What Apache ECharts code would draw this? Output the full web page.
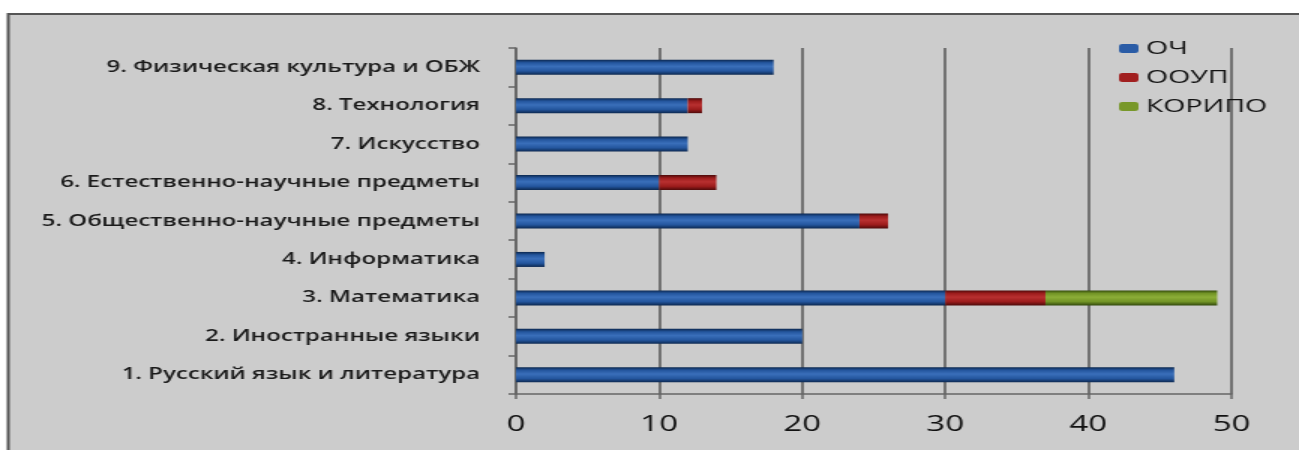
<!DOCTYPE html>
<html><head><meta charset="utf-8">
<script src="https://cdn.jsdelivr.net/npm/echarts@6/dist/echarts.min.js"></script>
<style>html,body{margin:0;padding:0;background:#fff;overflow:hidden}
#c{width:866px;height:450px;transform:scaleX(1.5);transform-origin:0 0}</style>
</head><body><div id="c"></div>
<script>
var categories = ['1. Русский язык и литература','2. Иностранные языки','3. Математика','4. Информатика','5. Общественно-научные предметы','6. Естественно-научные предметы','7. Искусство','8. Технология','9. Физическая культура и ОБЖ'];
var seriesNames = ['ОЧ','ООУП','КОРИПО'];
var valuesOCH = [46, 20, 30, 2, 24, 10, 12, 12, 18];
var valuesOOUP = [0, 0, 7, 0, 2, 4, 0, 1, 0];
var valuesKORIPO = [0, 0, 12, 0, 0, 0, 0, 0, 0];
var xTicks = [0, 10, 20, 30, 40, 50];

function grad(dark, mid, light){
  return new echarts.graphic.LinearGradient(0,0,0,1,[
    {offset:0, color:dark},{offset:0.2, color:mid},{offset:0.45, color:light},{offset:0.75, color:mid},{offset:1, color:dark}]);
}
var colors = [
  grad('#0c2850','#24569e','#3a6fba'),
  grad('#4e0a0a','#9c1c1c','#b83030'),
  grad('#334a0c','#729426','#8cae38')
];
var legendColors = ['#2a5ca6','#a11f1f','#78982a'];
var dataSets = [valuesOCH, valuesOOUP, valuesKORIPO];

var chart = echarts.init(document.getElementById('c'), null, {renderer:'canvas'});
var series = seriesNames.map(function(n,i){
  return {
    name:n, type:'bar', stack:'total', barWidth:15,
    data: dataSets[i].map(function(v){return v===0?null:v;}),
    itemStyle:{color:colors[i]}
  };
});
chart.setOption({
  backgroundColor:'#fff',
  animation:false,
  color: legendColors,
  graphic:[{type:'rect', z:-10, shape:{x:5.5,y:14,width:900,height:450}, style:{fill:'#cccccc', stroke:'#555', lineWidth:2}}],
  grid:{left:344, right:45, top:48, bottom:56},
  legend:{
    orient:'vertical', left:741, top:34, itemWidth:13, itemHeight:9, itemGap:10,
    textStyle:{fontFamily:'Open Sans', fontSize:19, color:'#111'},
    data: seriesNames.map(function(n,i){return {name:n, itemStyle:{color:legendColors[i]}};})
  },
  xAxis:{
    type:'value', min:xTicks[0], max:xTicks[xTicks.length-1], interval:10,
    axisLine:{show:true, lineStyle:{color:'#666', width:1.5}},
    axisTick:{show:true, length:5, lineStyle:{color:'#666', width:1.5}},
    axisLabel:{fontFamily:'Open Sans', fontSize:22, color:'#111', margin:20},
    splitLine:{show:true, lineStyle:{color:'#555', width:1.5}}
  },
  yAxis:{
    type:'category', data:categories,
    axisLine:{show:true, lineStyle:{color:'#666', width:1.5}},
    axisTick:{show:true, length:5, lineStyle:{color:'#666', width:1.5}},
    axisLabel:{fontFamily:'Open Sans', fontSize:16, fontWeight:600, color:'#1a1a1a', margin:24}
  },
  series: series
});
</script></body></html>
